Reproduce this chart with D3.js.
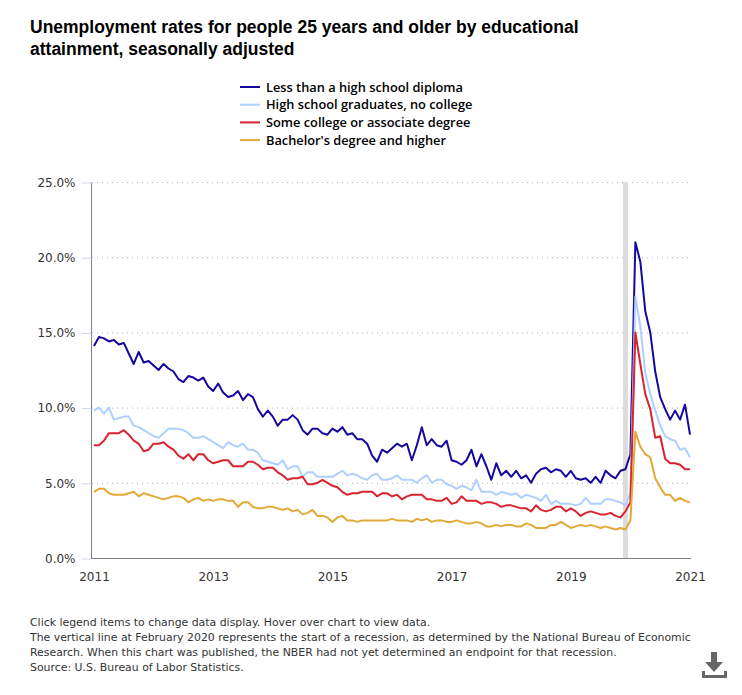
<!DOCTYPE html>
<html>
<head>
<meta charset="utf-8">
<script src="https://cdn.jsdelivr.net/npm/d3@7"></script>
<style>
  html, body { margin: 0; padding: 0; background: #fff; }
  svg { display: block; }
  .title { font: bold 17.5px "Liberation Sans", Arial, sans-serif; fill: #000; }
  .legend text { font: 600 12.8px "Open Sans", sans-serif; fill: #000; }
  .tick text { font: 12px "DejaVu Sans", Verdana, sans-serif; fill: #333; }
  .note { font: 10.9px "DejaVu Sans", Verdana, sans-serif; fill: #333; }
</style>
</head>
<body>
<svg id="chart" width="742" height="695"></svg>
<script>
const seriesNames = [
  "Less than a high school diploma",
  "High school graduates, no college",
  "Some college or associate degree",
  "Bachelor's degree and higher"
];
const seriesColors = ["#14089f", "#aed0ff", "#d9242f", "#e3a936"];

const lessThanHighSchool = [
  14.1, 14.7, 14.6, 14.4, 14.5, 14.2, 14.3, 13.6, 12.9, 13.7, 13.0, 13.1, 12.8, 12.5, 12.9, 12.6, 12.4, 11.9, 11.7, 12.1,
  12.0, 11.8, 12.0, 11.4, 11.1, 11.6, 11.0, 10.7, 10.8, 11.1, 10.5, 10.9, 10.7, 9.9, 9.4, 9.8, 9.4, 8.8, 9.2, 9.2,
  9.5, 9.2, 8.5, 8.2, 8.6, 8.6, 8.3, 8.2, 8.6, 8.4, 8.7, 8.2, 8.3, 7.9, 7.9, 7.6, 6.8, 6.4, 7.2, 7.0,
  7.3, 7.6, 7.4, 7.6, 6.5, 7.5, 8.7, 7.5, 7.9, 7.5, 7.4, 7.8, 6.5, 6.4, 6.2, 6.5, 7.2, 6.1, 6.9, 6.1,
  5.2, 6.3, 5.5, 5.8, 5.4, 5.8, 5.3, 5.5, 5.0, 5.6, 5.9, 6.0, 5.7, 5.9, 5.8, 5.4, 5.8, 5.3, 5.2, 5.3,
  5.0, 5.4, 5.0, 5.8, 5.5, 5.3, 5.8, 5.9, 6.9, 21.0, 19.7, 16.4, 15.0, 12.4, 10.7, 9.9, 9.2, 9.8, 9.2, 10.2, 8.2
];
const highSchoolGraduates = [
  9.8, 10.0, 9.6, 10.0, 9.2, 9.3, 9.4, 9.4, 8.8, 8.7, 8.5, 8.3, 8.1, 8.0, 8.3, 8.6, 8.6, 8.6, 8.5, 8.3,
  8.0, 8.0, 8.1, 7.9, 7.7, 7.5, 7.3, 7.7, 7.5, 7.4, 7.6, 7.2, 7.2, 7.0, 6.5, 6.4, 6.3, 6.2, 6.5, 5.9,
  6.1, 6.1, 5.4, 5.7, 5.7, 5.4, 5.4, 5.4, 5.4, 5.6, 5.8, 5.5, 5.6, 5.5, 5.3, 5.2, 5.5, 5.6, 5.2, 5.2,
  5.3, 5.5, 5.2, 5.2, 5.2, 5.0, 5.3, 5.5, 5.0, 5.2, 5.2, 4.9, 4.8, 4.6, 4.8, 4.7, 4.5, 5.2, 4.4, 4.4,
  4.4, 4.2, 4.4, 4.3, 4.2, 4.3, 4.0, 4.2, 4.1, 4.0, 3.8, 4.2, 3.6, 3.8, 3.6, 3.6, 3.6, 3.5, 3.6, 4.0,
  3.6, 3.6, 3.6, 3.9, 3.9, 3.8, 3.7, 3.5, 4.3, 17.4, 15.4, 12.3, 10.9, 9.8, 8.8, 8.1, 7.9, 7.8, 7.2, 7.3, 6.7
];
const someCollege = [
  7.5, 7.5, 7.8, 8.3, 8.3, 8.3, 8.5, 8.2, 7.8, 7.6, 7.1, 7.2, 7.6, 7.6, 7.7, 7.4, 7.2, 6.8, 6.6, 6.9,
  6.5, 6.9, 6.9, 6.5, 6.3, 6.4, 6.5, 6.5, 6.1, 6.1, 6.1, 6.4, 6.4, 6.2, 5.9, 6.0, 6.0, 5.7, 5.5, 5.2,
  5.3, 5.3, 5.4, 4.9, 4.9, 5.0, 5.2, 5.0, 4.8, 4.7, 4.4, 4.2, 4.3, 4.3, 4.4, 4.4, 4.4, 4.1, 4.3, 4.3,
  4.1, 4.2, 3.9, 4.1, 4.2, 4.2, 4.2, 3.9, 3.9, 3.8, 3.8, 4.0, 3.6, 3.7, 4.1, 3.8, 3.8, 3.8, 3.6, 3.7,
  3.7, 3.6, 3.4, 3.5, 3.5, 3.4, 3.3, 3.3, 3.1, 3.5, 3.2, 3.1, 3.2, 3.4, 3.4, 3.1, 3.3, 3.1, 2.8, 3.0,
  3.1, 3.0, 2.9, 2.9, 3.0, 2.8, 2.7, 3.1, 3.7, 15.0, 12.9, 10.9, 9.9, 8.0, 8.1, 6.6, 6.3, 6.3, 6.2, 5.9, 5.9
];
const bachelorsAndHigher = [
  4.4, 4.6, 4.6, 4.3, 4.2, 4.2, 4.2, 4.3, 4.4, 4.1, 4.3, 4.2, 4.1, 4.0, 3.9, 4.0, 4.1, 4.1, 4.0, 3.7,
  3.9, 4.0, 3.8, 3.9, 3.8, 3.9, 3.9, 3.8, 3.8, 3.4, 3.7, 3.7, 3.4, 3.3, 3.3, 3.4, 3.4, 3.3, 3.2, 3.3,
  3.1, 3.2, 2.9, 3.0, 3.2, 2.8, 2.8, 2.7, 2.4, 2.7, 2.8, 2.5, 2.5, 2.4, 2.5, 2.5, 2.5, 2.5, 2.5, 2.5,
  2.6, 2.5, 2.5, 2.5, 2.4, 2.6, 2.5, 2.6, 2.4, 2.5, 2.5, 2.4, 2.4, 2.5, 2.4, 2.3, 2.3, 2.4, 2.3, 2.1,
  2.1, 2.2, 2.1, 2.2, 2.2, 2.1, 2.1, 2.3, 2.2, 2.0, 2.0, 2.0, 2.2, 2.2, 2.4, 2.2, 2.0, 2.1, 2.2, 2.1,
  2.2, 2.1, 2.0, 2.1, 2.0, 1.9, 2.0, 1.9, 2.5, 8.4, 7.4, 6.9, 6.7, 5.3, 4.7, 4.2, 4.2, 3.8, 4.0, 3.8, 3.7
];
const allSeries = [lessThanHighSchool, highSchoolGraduates, someCollege, bachelorsAndHigher];

const yTicks = [0, 5, 10, 15, 20, 25];
const xTickYears = [2011, 2013, 2015, 2017, 2019, 2021];
const monthCount = 120;
const recessionMonth = 107;

const titleLines = [
  "Unemployment rates for people 25 years and older by educational",
  "attainment, seasonally adjusted"
];
const noteLines = [
  "Click legend items to change data display. Hover over chart to view data.",
  "The vertical line at February 2020 represents the start of a recession, as determined by the National Bureau of Economic",
  "Research. When this chart was published, the NBER had not yet determined an endpoint for that recession.",
  "Source: U.S. Bureau of Labor Statistics."
];

const svg = d3.select("#chart");

const x = d3.scaleLinear().domain([0, monthCount]).range([94, 690]);
const y = d3.scaleLinear().domain([0, 25]).range([558, 182]);

// title
svg.append("g").selectAll("text")
  .data(titleLines)
  .join("text")
  .attr("class", "title")
  .attr("x", 30)
  .attr("y", (d, i) => 33 + i * 22)
  .text(d => d);

// legend
const legend = svg.append("g").attr("class", "legend")
  .selectAll("g")
  .data(seriesNames)
  .join("g")
  .attr("transform", (d, i) => `translate(240,${87 + i * 17.7})`);

legend.append("line")
  .attr("x2", 20)
  .attr("stroke", (d, i) => seriesColors[i])
  .attr("stroke-width", 2);

legend.append("text")
  .attr("x", 26)
  .attr("y", 4.5)
  .text(d => d);

// gridlines
svg.append("g").selectAll("line")
  .data(yTicks.slice(1))
  .join("line")
  .attr("x1", 92)
  .attr("x2", 690)
  .attr("y1", d => y(d) + 0.5)
  .attr("y2", d => y(d) + 0.5)
  .attr("stroke", "#b5b5b5")
  .attr("stroke-dasharray", "1,4");

// recession band
svg.append("rect")
  .attr("x", x(recessionMonth) - 2.5)
  .attr("y", y(25))
  .attr("width", 5)
  .attr("height", y(0) - y(25))
  .attr("fill", "#dcdcdc");

// axes
const yAxis = svg.append("g")
  .attr("transform", "translate(91.5,0.5)")
  .call(d3.axisLeft(y).tickValues(yTicks).tickFormat(d => d3.format(".1f")(d) + "%").tickSize(10).tickPadding(6));
yAxis.selectAll(".tick line").attr("stroke", "#ccd6eb");
yAxis.select(".domain").attr("stroke", "#808080").attr("d", `M0,${y(25)}V${y(0)}`);

const xAxis = svg.append("g")
  .attr("transform", "translate(0,558.5)")
  .call(d3.axisBottom(x)
    .tickValues(xTickYears.map(yr => (yr - 2011) * 12))
    .tickFormat((d, i) => xTickYears[i])
    .tickSize(0)
    .tickPadding(14));
xAxis.select(".domain").attr("stroke", "#808080").attr("d", "M91,0H691");

// lines
const line = d3.line()
  .x((d, i) => x(i))
  .y(d => y(d));

svg.append("g").selectAll("path")
  .data(allSeries)
  .join("path")
  .attr("fill", "none")
  .attr("stroke", (d, i) => seriesColors[i])
  .attr("stroke-width", 2)
  .attr("stroke-linejoin", "round")
  .attr("d", line);

// notes
svg.append("g").selectAll("text")
  .data(noteLines)
  .join("text")
  .attr("class", "note")
  .attr("x", 30)
  .attr("y", (d, i) => 626 + i * 15)
  .text(d => d);

// download icon
const icon = svg.append("g").attr("transform", "translate(702,652)").attr("fill", "#666");
icon.append("path").attr("d", "M9,0H15V10H21L12,20L3,10H9Z");
icon.append("path").attr("d", "M0,19H3V23H22V19H25V26H0Z");
</script>
</body>
</html>
